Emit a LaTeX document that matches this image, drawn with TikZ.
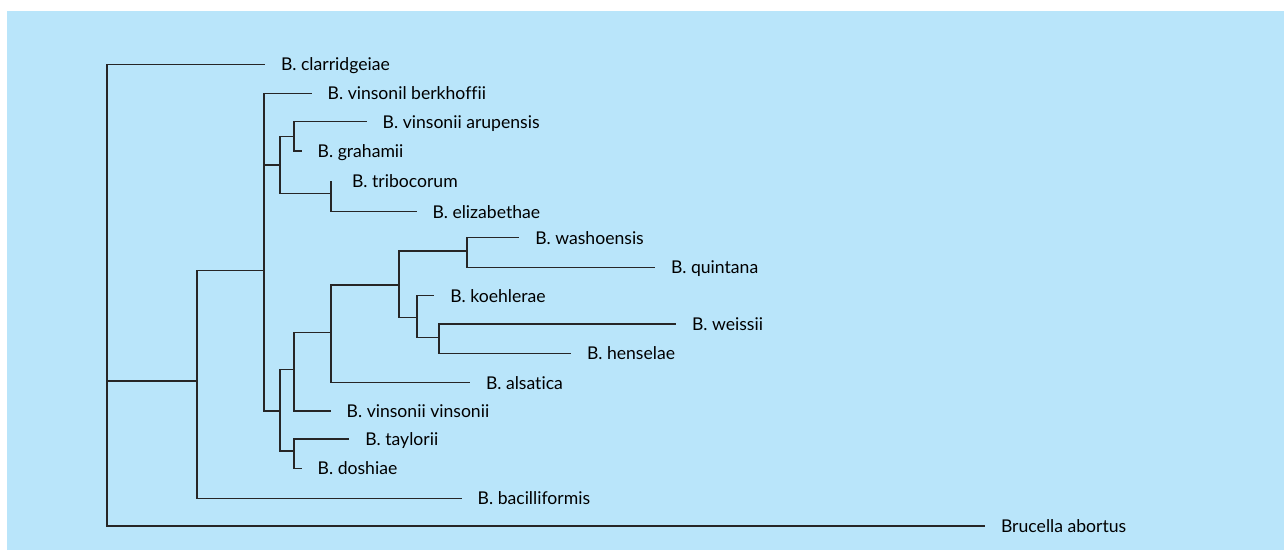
\documentclass[tikz,border=0pt]{standalone}
\usepackage{fontspec}
\setmainfont{Lato}[Ligatures={NoCommon}]
\usetikzlibrary{positioning}
\definecolor{skyback}{RGB}{185,229,250}
\tikzset{
  leaf/.style={anchor=west, inner xsep=7.8pt, inner ysep=0pt,
    text height=6.4pt, text depth=0pt, font=\fontsize{8.8}{10}\selectfont},
  branch/.style={line width=0.75pt, draw=black!85},
}

\begin{document}
\begin{tikzpicture}[x=0.5pt, y=-0.5pt]
  \fill[white] (0,0) rectangle (1284,550);
  \fill[skyback] (7,11) rectangle (1284,550);
  % leaves
  \node[leaf] (clar) at (265,64.3) {B. clarridgeiae};
  \node[leaf] (berk) at (311.7,93.3) {B. vinsonil berkhoffii};
  \node[leaf] (arup) at (366.7,121.7) {B. vinsonii arupensis};
  \node[leaf] (grah) at (301.7,151) {B. grahamii};
  \node[leaf, inner xsep=10.3pt] (trib) at (331,180.7) {B. tribocorum};
  \node[leaf] (eliz) at (416.5,211.7) {B. elizabethae};
  \node[leaf] (wash) at (519.3,237.7) {B. washoensis};
  \node[leaf] (quin) at (655,267.3) {B. quintana};
  \node[leaf] (koeh) at (434.3,295.7) {B. koehlerae};
  \node[leaf] (weis) at (676,324) {B. weissii};
  \node[leaf] (hens) at (571,353.3) {B. henselae};
  \node[leaf] (alsa) at (470,382.7) {B. alsatica};
  \node[leaf] (vinv) at (330.7,411) {B. vinsonii vinsonii};
  \node[leaf] (tayl) at (349.3,439) {B. taylorii};
  \node[leaf] (dosh) at (301.7,468.3) {B. doshiae};
  \node[leaf] (baci) at (461.7,498.3) {B. bacilliformis};
  \node[leaf] (bruc) at (985,526) {Brucella abortus};
  % inner nodes
  \coordinate (root) at (107,381);
  \coordinate (bart) at (197,381);
  \coordinate (core) at (264,270.7);
  \coordinate (upper) at (280,165);
  \coordinate (arugra) at (294,136.7);
  \coordinate (trieli) at (331,193.3);
  \coordinate (lower) at (280,411);
  \coordinate (midcl) at (294,369.3);
  \coordinate (tayclade) at (294,451);
  \coordinate (alscl) at (331,332.7);
  \coordinate (hencl) at (399,285);
  \coordinate (wasqui) at (467,251);
  \coordinate (koecl) at (417,317.3);
  \coordinate (weihen) at (439,337.3);
  % branches
  \draw[branch] (root) |- (clar.west);
  \draw[branch] (root) -- (bart);
  \draw[branch] (root) |- (bruc.west);
  \draw[branch] (bart) |- (core);
  \draw[branch] (bart) |- (baci.west);
  \draw[branch] (core) |- (berk.west);
  \draw[branch] (core) |- (upper);
  \draw[branch] (core) |- (lower);
  \draw[branch] (upper) |- (arugra);
  \draw[branch] (upper) |- (trieli);
  \draw[branch] (arugra) |- (arup.west);
  \draw[branch] (arugra) |- (grah.west);
  \draw[branch] (trieli) |- (trib.west);
  \draw[branch] (trieli) |- (eliz.west);
  \draw[branch] (lower) |- (midcl);
  \draw[branch] (lower) |- (tayclade);
  \draw[branch] (midcl) |- (alscl);
  \draw[branch] (midcl) |- (vinv.west);
  \draw[branch] (alscl) |- (hencl);
  \draw[branch] (alscl) |- (alsa.west);
  \draw[branch] (hencl) |- (wasqui);
  \draw[branch] (hencl) |- (koecl);
  \draw[branch] (wasqui) |- (wash.west);
  \draw[branch] (wasqui) |- (quin.west);
  \draw[branch] (koecl) |- (koeh.west);
  \draw[branch] (koecl) |- (weihen);
  \draw[branch] (weihen) |- (weis.west);
  \draw[branch] (weihen) |- (hens.west);
  \draw[branch] (tayclade) |- (tayl.west);
  \draw[branch] (tayclade) |- (dosh.west);
\end{tikzpicture}
\end{document}
